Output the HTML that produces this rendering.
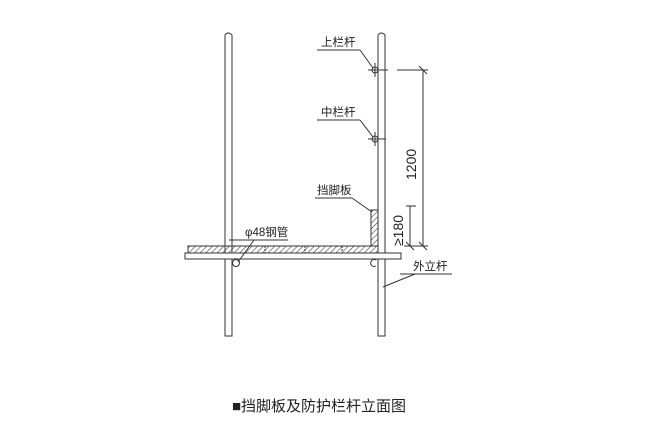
<!DOCTYPE html><html><head><meta charset="utf-8"><style>body{margin:0;background:#fff}svg{display:block}text{font-family:"Liberation Sans","Noto Sans CJK SC",sans-serif;fill:#222}</style></head><body>
<svg width="657" height="428" viewBox="0 0 657 428">
<defs><pattern id="h" width="4" height="4" patternUnits="userSpaceOnUse" patternTransform="rotate(45)"><line x1="0" y1="0" x2="0" y2="4" stroke="#444" stroke-width="1.2"/></pattern></defs>
<g stroke="#333" stroke-width="1" fill="none">
<path d="M225,336 V35 Q228,31 232,35 V336 Z" fill="#fff"/>
<path d="M378,336 V35 Q381,31 385,35 V336 Z" fill="#fff"/>
<rect x="188" y="246" width="190" height="7" fill="url(#h)"/>
<line x1="265" y1="246" x2="265" y2="253" stroke-dasharray="2,1"/><line x1="305" y1="246" x2="305" y2="253" stroke-dasharray="2,1"/><line x1="342" y1="246" x2="342" y2="253" stroke-dasharray="2,1"/>
<rect x="371" y="210" width="7" height="36" fill="url(#h)"/>
<rect x="185" y="253" width="216" height="6" fill="#fff"/>
<circle cx="236" cy="263" r="3.5"/><path d="M376,260 A3.5,3.5 0 1,0 376,266"/>
<circle cx="375" cy="70" r="3"/><line x1="368" y1="70" x2="388" y2="70"/><line x1="375" y1="63" x2="375" y2="77"/>
<circle cx="375" cy="139" r="3"/><line x1="368" y1="139" x2="386" y2="139"/><line x1="375" y1="132" x2="375" y2="146"/>
<line x1="317" y1="50" x2="360" y2="50"/><line x1="360" y1="50" x2="373" y2="68"/>
<line x1="317" y1="120" x2="360" y2="120"/><line x1="360" y1="120" x2="373" y2="137"/>
<line x1="397" y1="70" x2="428" y2="70"/><line x1="423" y1="70" x2="423" y2="246"/><line x1="419" y1="66" x2="427" y2="74"/><line x1="419" y1="242" x2="427" y2="250"/><line x1="404" y1="246" x2="428" y2="246"/>
<line x1="410" y1="206" x2="410" y2="246"/><line x1="406" y1="206" x2="416" y2="206"/><line x1="406" y1="242" x2="414" y2="250"/>
<line x1="315" y1="198" x2="352" y2="198"/><line x1="352" y1="198" x2="372" y2="212"/>
<line x1="229" y1="240" x2="288" y2="240"/><line x1="254" y1="240" x2="238" y2="262"/>
<line x1="400" y1="274" x2="452" y2="274"/><line x1="415" y1="274" x2="383" y2="287"/>
</g>
<g font-size="11.5">
<text x="321" y="46">上栏杆</text><text x="321" y="116">中栏杆</text><text x="317" y="194">挡脚板</text><text x="245" y="236">φ48钢管</text><text x="413" y="270">外立杆</text>
<text transform="translate(416,180) rotate(-90)" font-size="14">1200</text>
<text transform="translate(403,246) rotate(-90)" font-size="14">≥180</text>
</g>
<text x="232" y="411" font-size="15">■挡脚板及防护栏杆立面图</text>
</svg></body></html>
